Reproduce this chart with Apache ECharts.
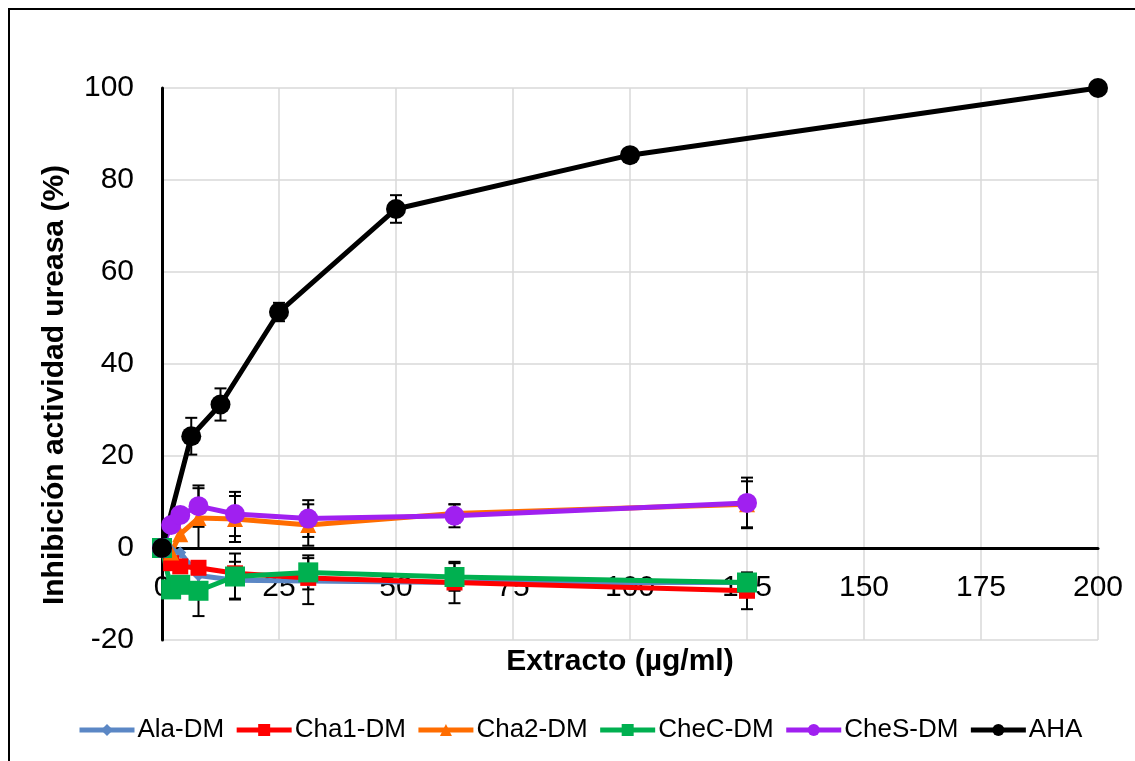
<!DOCTYPE html>
<html>
<head>
<meta charset="utf-8">
<script src="https://cdn.jsdelivr.net/npm/echarts@6/dist/echarts.min.js"></script>
<style>html,body{margin:0;padding:0;background:#fff;}#c{width:1135px;height:761px;}</style>
</head>
<body>
<div id="c"></div>
<script>
// Concentrations
const xExtract = [0, 1.95, 3.9, 7.8, 15.6, 31.25, 62.5, 125];
const xAHA = [0, 6.25, 12.5, 25, 50, 100, 200];
// Series values (% inhibition)
const alaDM  = [0, -0.5, -1, -6, -7, -7.2, -7.5, -7.5];
const cha1DM = [0, -3.3, -4, -4.3, -5.5, -6.5, -7.5, -9.3];
const cha2DM = [0, -1, 3, 6.5, 6.3, 5, 7.5, 9.5];
const checDM = [0, -9, -8, -9.3, -6.2, -5.3, -6.3, -7.5];
const chesDM = [0, 5, 7.2, 9.1, 7.4, 6.4, 7, 9.8];
const aha    = [0, 24.3, 31.2, 51.3, 73.7, 85.4, 100];
// Error (± value)
const alaErr  = [0, 0, 0, 0, 4, 5, 0, 0];
const cha1Err = [0, 0, 0, 0, 0, 0, 4.5, 4];
const cha2Err = [0, 0, 0, 6.5, 5, 4.5, 2, 5];
const checErr = [0, 0, 0, 5.5, 5, 3.7, 3, 0];
const chesErr = [0, 0, 0, 4.5, 4.8, 4, 2.5, 5.5];
const ahaErr  = [0, 4, 3.5, 2, 3, 0, 0];
// Axis ticks
const xTicks = {min: 0, max: 200, interval: 25};
const yTicks = {min: -20, max: 100, interval: 20};
const names = ['Ala-DM', 'Cha1-DM', 'Cha2-DM', 'CheC-DM', 'CheS-DM', 'AHA'];

const FONT = '"Liberation Sans", Arial, sans-serif';
const zip = (xs, ys) => xs.map((x, i) => [x, ys[i]]);
const zipErr = (xs, ys, es) => xs.map((x, i) => [x, ys[i], es[i]]).filter(d => d[2] > 0);

function errSeries(xs, ys, es) {
  return {
    type: 'custom',
    z: 1,
    silent: true,
    data: zipErr(xs, ys, es),
    renderItem: function (params, api) {
      const x = api.value(0), y = api.value(1), e = api.value(2);
      const top = api.coord([x, y + e]);
      const bot = api.coord([x, y - e]);
      const hw = 6;
      const style = {stroke: '#000', lineWidth: 2};
      return {
        type: 'group',
        children: [
          {type: 'line', shape: {x1: top[0], y1: top[1], x2: bot[0], y2: bot[1]}, style: style},
          {type: 'line', shape: {x1: top[0] - hw, y1: top[1], x2: top[0] + hw, y2: top[1]}, style: style},
          {type: 'line', shape: {x1: bot[0] - hw, y1: bot[1], x2: bot[0] + hw, y2: bot[1]}, style: style}
        ]
      };
    }
  };
}

function lineSeries(name, xs, ys, color, symbol, size) {
  return {
    name: name, type: 'line', z: 3,
    data: zip(xs, ys),
    symbol: symbol, symbolSize: size, showSymbol: true,
    lineStyle: {color: color, width: 5},
    itemStyle: {color: color, borderWidth: 0},
    emphasis: {disabled: true},
    animation: false
  };
}

const chart = echarts.init(document.getElementById('c'), null, {renderer: 'canvas'});
chart.setOption({
  animation: false,
  backgroundColor: '#fff',
  grid: {left: 162, right: 37, top: 88, bottom: 121, containLabel: false},
  xAxis: {
    type: 'value', min: xTicks.min, max: xTicks.max, interval: xTicks.interval,
    axisLine: {show: true, onZero: true, lineStyle: {color: '#000', width: 3}},
    axisTick: {show: false},
    axisLabel: {color: '#000', fontSize: 30, fontFamily: FONT, margin: -67},
    splitLine: {show: true, lineStyle: {color: '#d9d9d9', width: 1.5}}
  },
  yAxis: {
    type: 'value', min: yTicks.min, max: yTicks.max, interval: yTicks.interval,
    axisLine: {show: true, onZero: false, lineStyle: {color: '#000', width: 3}},
    axisTick: {show: false},
    axisLabel: {color: '#000', fontSize: 30, fontFamily: FONT, margin: 28},
    splitLine: {show: true, lineStyle: {color: '#d9d9d9', width: 1.5}}
  },
  legend: {
    data: names,
    top: 712, left: 72,
    itemWidth: 55, itemHeight: 15, itemGap: 10,
    lineStyle: {width: 5},
    textStyle: {color: '#000', fontSize: 26, fontFamily: FONT, padding: [0, 0, 0, -2]}
  },
  graphic: [
    {type: 'rect', silent: true, shape: {x: 9, y: 9, width: 1200, height: 800}, style: {fill: 'none', stroke: '#000', lineWidth: 2}},
    {type: 'text', x: 620, y: 662, style: {text: 'Extracto (µg/ml)', font: 'bold 30px ' + FONT, fill: '#000', align: 'center', verticalAlign: 'middle'}},
    {type: 'text', x: 55, y: 385, rotation: Math.PI / 2, style: {text: 'Inhibición actividad ureasa (%)', font: 'bold 30px ' + FONT, fill: '#000', align: 'center', verticalAlign: 'middle'}}
  ],
  series: [
    errSeries(xExtract, alaDM, alaErr),
    errSeries(xExtract, cha1DM, cha1Err),
    errSeries(xExtract, cha2DM, cha2Err),
    errSeries(xExtract, checDM, checErr),
    errSeries(xExtract, chesDM, chesErr),
    errSeries(xAHA, aha, ahaErr),
    lineSeries('Ala-DM', xExtract, alaDM, '#5B87C5', 'diamond', 12),
    lineSeries('Cha1-DM', xExtract, cha1DM, '#FF0000', 'rect', 16),
    lineSeries('Cha2-DM', xExtract, cha2DM, '#FF6D00', 'triangle', 16),
    lineSeries('CheC-DM', xExtract, checDM, '#00B050', 'rect', 20),
    lineSeries('CheS-DM', xExtract, chesDM, '#A020F0', 'circle', 20),
    lineSeries('AHA', xAHA, aha, '#000000', 'circle', 20)
  ]
});
</script>
</body>
</html>
